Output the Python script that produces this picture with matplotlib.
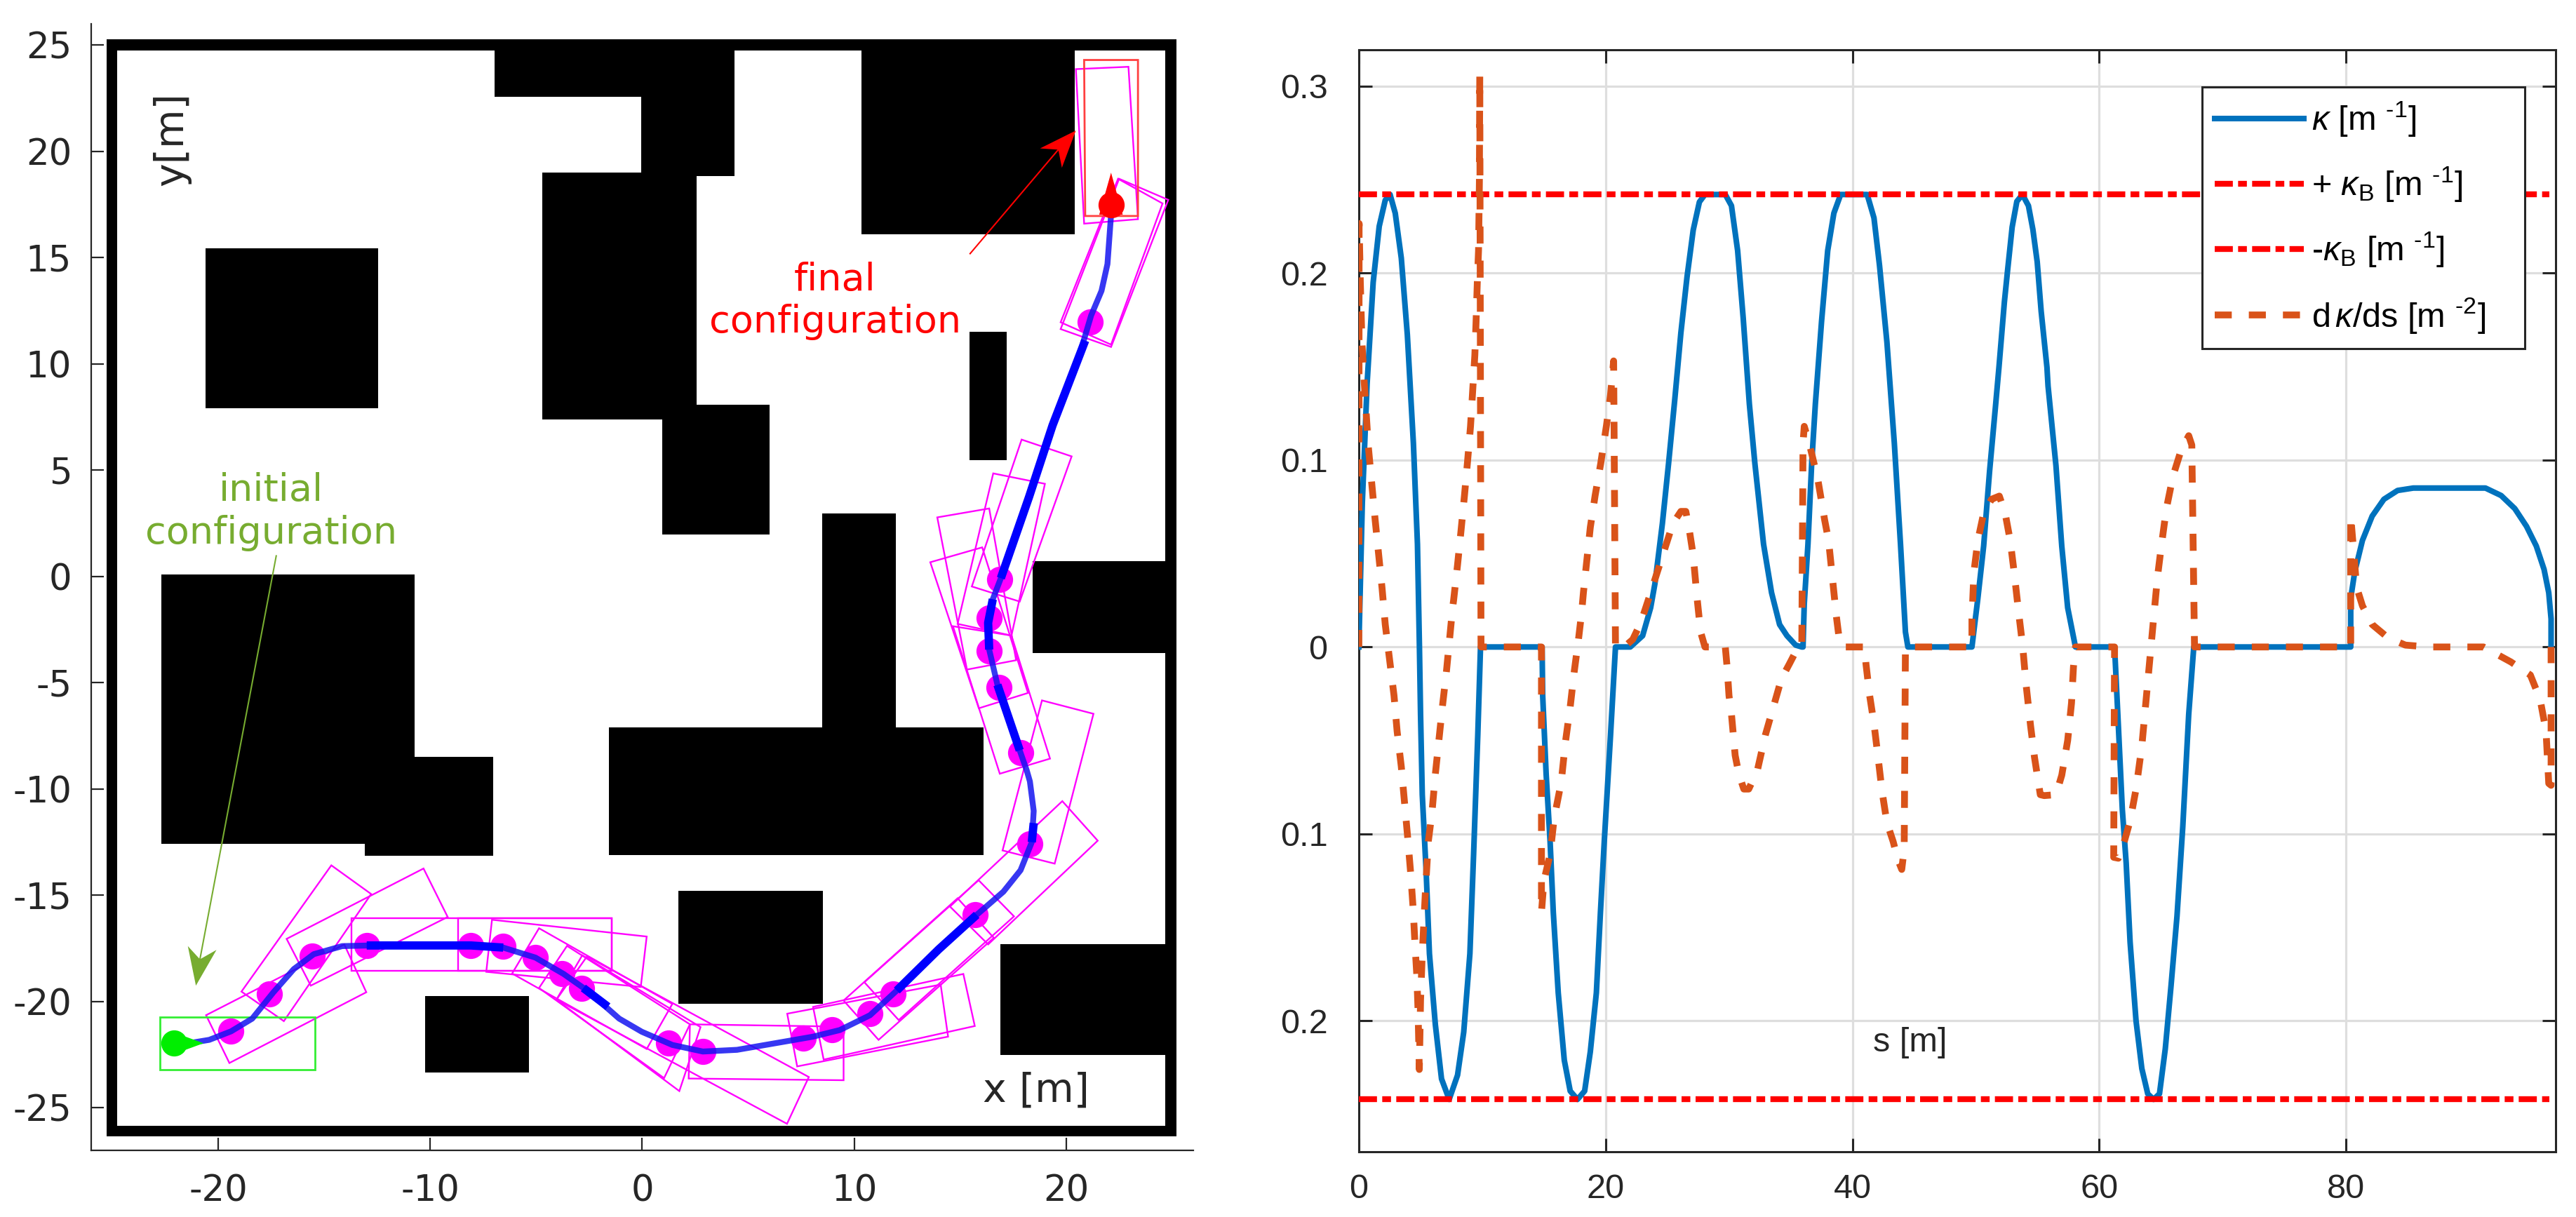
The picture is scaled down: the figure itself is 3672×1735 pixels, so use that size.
import matplotlib
matplotlib.use('Agg')
import matplotlib.pyplot as plt
from matplotlib.patches import Rectangle, Polygon

plt.rcParams['mathtext.fontset'] = 'custom'
plt.rcParams['mathtext.rm'] = 'Liberation Sans'
plt.rcParams['mathtext.it'] = 'Liberation Sans:italic'
plt.rcParams['mathtext.bf'] = 'Liberation Sans:bold'
plt.rcParams['axes.unicode_minus'] = False

# left panel: map
frame_outer = [-25.28, 25.2, -26.34, 25.28]
frame_inner = [-24.78, 24.68, -25.84, 24.75]

obs_x0 = [-6.96, -0.06, -4.71, 0.95, -20.6, 10.35, 15.44, 18.42, 8.48, -1.58, -22.7, -13.1, 1.71, -10.25, 16.9]
obs_x1 = [-0.06, 4.36, 2.58, 6.0, -12.47, 20.4, 17.2, 25.0, 11.96, 16.1, -10.74, -7.03, 8.51, -5.34, 25.0]
obs_y0 = [22.57, 18.85, 7.4, 1.97, 7.93, 16.1, 5.47, -3.6, -7.2, -13.1, -12.58, -13.14, -20.1, -23.35, -22.5]
obs_y1 = [25.0, 25.0, 19.0, 8.09, 15.45, 25.0, 11.5, 0.73, 2.98, -7.1, 0.11, -8.5, -14.8, -19.74, -17.3]

path_x = [-21.4, -20.43, -19.4, -18.4, -17.4, -16.44, -15.5, -14.16, -12.83, -8.08, -6.56, -5.04, -3.71, -2.57,
          -1.09, -0.02, 1.42, 2.86, 4.47, 6.27, 8.06, 9.32, 10.75, 12.01, 13.99, 15.78, 17.04, 17.85, 18.38, 18.47,
          18.29, 18.14, 17.81, 16.76, 16.37, 16.32, 16.54, 16.92, 18.25, 19.36, 20.46, 21.18, 21.67, 21.95, 22.12]
path_y = [-21.96, -21.8, -21.4, -20.8, -19.56, -18.47, -17.77, -17.39, -17.36, -17.36, -17.46, -17.93, -18.7, -19.5,
          -20.8, -21.42, -22.04, -22.35, -22.27, -21.96, -21.65, -21.34, -20.64, -19.48, -17.54, -15.92, -14.83, -13.82, -12.5, -11.03,
          -9.64, -9.12, -8.18, -5.1, -3.44, -2.18, -1.07, -0.08, 3.74, 7.11, 9.85, 12.28, 13.44, 14.7, 17.02]

# parts of the path drawn heavier
thick_x = [[-13.0, -8.08, -6.56], [-2.78, -1.62], [12.01, 13.99, 15.78], [18.38, 18.47], [16.54, 16.32, 16.37], [16.76, 17.81], [16.92, 18.25, 19.36, 20.9]]
thick_y = [[-17.36, -17.36, -17.46], [-19.36, -20.24], [-19.48, -17.54, -15.92], [-12.5, -11.6], [-1.07, -2.18, -3.44], [-5.1, -8.18], [-0.08, 3.74, 7.11, 11.1]]

blob_x = [-19.4, -17.58, -15.58, -13.0, -8.08, -6.56, -5.04, -3.8, -2.86, 1.24, 2.86, 7.61, 8.96, 10.75, 11.83, 15.69, 18.29, 17.86, 16.82, 16.37, 16.37, 16.87, 21.12]
blob_y = [-21.4, -19.63, -17.85, -17.36, -17.36, -17.39, -17.93, -18.7, -19.37, -21.96, -22.35, -21.73, -21.34, -20.56, -19.63, -15.92, -12.58, -8.29, -5.21, -3.5, -1.96, -0.14, 11.96]

veh_a = [(-14.67, -13.59), (-12.79, -14.94), (-16.91, -20.92), (-18.91, -19.53)]
veh_b = [(-16.78, -17.05), (-10.32, -13.74), (-9.18, -16.02), (-15.64, -19.25)]
veh_c = [(-20.58, -20.64), (-19.48, -22.89), (-13.02, -19.56), (-14.06, -17.31)]
veh_d1 = [(-13.72, -16.07), (-1.43, -16.07), (-1.43, -18.55), (-13.72, -18.55)]
veh_d2 = [(-8.7, -16.07), (-1.43, -16.07), (-1.43, -18.55), (-8.7, -18.55)]
veh_d3 = [(-7.09, -16.15), (0.21, -16.94), (-0.07, -19.31), (-7.36, -18.6)]
veh_v1 = [(-4.87, -16.55), (1.42, -20.11), (0.21, -22.23), (-6.14, -18.68)]
veh_v2 = [(-3.55, -17.38), (2.25, -21.07), (1.03, -23.6), (-4.87, -19.36)]
veh_v3 = [(-2.61, -17.88), (7.86, -23.55), (6.83, -25.75), (-4.05, -19.91)]
veh_v4 = [(-2.83, -17.82), (2.75, -21.2), (1.75, -24.21), (-4.05, -19.91)]
veh_e = [(2.25, -21.07), (9.5, -21.18), (9.5, -23.7), (2.19, -23.62)]
veh_h = [(6.84, -20.57), (14.08, -19.2), (14.43, -21.65), (7.31, -23.05)]
veh_i = [(8.06, -20.25), (15.15, -18.7), (15.69, -21.15), (8.56, -22.73)]
veh_j = [(10.48, -19.09), (15.87, -14.29), (17.54, -15.99), (12.1, -20.87)]
veh_k = [(9.5, -19.95), (14.88, -15.14), (16.59, -17.0), (11.15, -21.8)]
veh_l = [(14.52, -15.53), (19.82, -10.57), (21.49, -12.43), (16.32, -17.31)]
veh_m = [(17.0, -12.89), (19.46, -13.51), (21.29, -6.46), (18.86, -5.83)]
veh_u = [(14.66, -2.34), (17.42, -2.78), (19.24, -8.57), (16.87, -9.28)]
veh_t = [(13.59, 0.67), (16.04, 1.37), (18.2, -5.48), (15.88, -6.2)]
veh_s = [(13.92, 2.78), (16.37, 3.2), (17.64, -3.94), (15.32, -4.38)]
veh_r = [(16.56, 4.85), (19.0, 4.36), (17.42, -2.78), (14.88, -2.23)]
veh_q = [(17.9, 6.44), (20.26, 5.65), (17.81, -1.18), (15.55, -0.47)]
veh_p = [(22.5, 18.71), (24.82, 17.72), (22.12, 10.8), (19.74, 11.64)]
veh_p2 = [(22.45, 18.71), (24.55, 17.55), (22.12, 10.91), (19.74, 11.96)]
veh_o = [(20.46, 23.87), (22.94, 23.98), (23.39, 16.81), (20.85, 16.6)]
vehicles = [veh_a, veh_b, veh_c, veh_d1, veh_d2, veh_d3, veh_v1, veh_v2, veh_v3, veh_v4, veh_e, veh_h, veh_i,
            veh_j, veh_k, veh_l, veh_m, veh_u, veh_t, veh_s, veh_r, veh_q, veh_p, veh_p2, veh_o]

veh_start = [(-22.75, -20.72), (-15.43, -20.72), (-15.43, -23.2), (-22.75, -23.2)]
veh_final = [(20.85, 24.3), (23.39, 24.3), (23.39, 16.96), (20.9, 16.96)]
tri_start = [(-22.1, -21.45), (-20.7, -21.96), (-22.1, -22.47)]
tri_final = [(21.56, 17.02), (22.12, 19.0), (22.67, 17.02)]
start_pt = (-22.1, -21.96)
final_pt = (22.12, 17.5)

green_tail = (-17.27, 0.97)
green_notch = (-20.87, -18.01)
green_head = [(-21.06, -19.25), (-21.44, -17.39), (-20.87, -18.01), (-20.09, -17.57)]
red_tail = (15.47, 15.19)
red_notch = (19.63, 20.08)
red_head = [(20.46, 20.98), (18.77, 20.14), (19.63, 20.08), (19.8, 19.23)]

# right panel: curvature
s_k = [0, 0.28, 0.67, 1.16, 1.65, 2.14, 2.53, 2.95, 3.44, 3.93, 4.42, 4.75, 4.91, 5.0, 5.14, 5.46, 5.72, 6.2, 6.7, 7.32,
       8.0, 8.5, 9.0, 9.3, 9.64, 9.86, 14.85, 14.9, 15.18, 15.5, 15.76, 16.16, 16.65, 17.13, 17.72, 18.3, 18.76, 19.25,
       19.58, 19.9, 20.4, 20.8, 22.0, 23.0, 23.65, 24.0, 24.6, 25.1, 25.6, 26.1, 26.6, 27.1, 27.6, 28.05, 29.7, 30.2,
       30.7, 31.15, 31.65, 32.1, 32.8, 33.45, 34.1, 34.7, 35.4, 35.9, 36.0, 36.1, 36.4, 36.7, 37.0, 37.5, 38.0, 38.5,
       39.05, 41.2, 41.75, 42.2, 42.8, 43.4, 43.9, 44.3, 44.5, 49.69, 50.17, 50.64, 51.12, 51.59, 51.88, 52.32, 52.57,
       52.95, 53.33, 53.78, 54.27, 54.63, 54.98, 55.3, 55.77, 55.86, 56.5, 56.97, 57.45, 58.08, 61.25, 61.47, 61.88,
       62.19, 62.51, 62.99, 63.46, 63.94, 64.41, 64.89, 65.36, 65.83, 66.31, 66.78, 67.26, 67.67, 80.39, 80.39, 80.71,
       81.34, 82.13, 83.08, 84.19, 85.46, 91.31, 92.58, 93.69, 94.64, 95.43, 96.06, 96.44, 96.63, 96.63]
kappa = [0, 0.077, 0.141, 0.195, 0.225, 0.239, 0.242, 0.232, 0.208, 0.167, 0.109, 0.055, 0.0, -0.036, -0.079, -0.121, -0.164, -0.202, -0.231, -0.242,
         -0.229, -0.206, -0.164, -0.111, -0.047, 0, 0, -0.026, -0.068, -0.104, -0.142, -0.185, -0.221, -0.2375, -0.242, -0.2375, -0.2165, -0.185,
         -0.142, -0.103, -0.047, 0, 0, 0.006, 0.021, 0.034, 0.066, 0.098, 0.132, 0.168, 0.198, 0.223, 0.238, 0.242, 0.242, 0.236,
         0.212, 0.176, 0.13, 0.098, 0.055, 0.029, 0.012, 0.006, 0.001, 0, 0, 0.023, 0.055, 0.098, 0.13, 0.174, 0.212, 0.232,
         0.242, 0.242, 0.2295, 0.204, 0.163, 0.109, 0.055, 0.008, 0, 0, 0.026, 0.054, 0.094, 0.128, 0.1496, 0.1845, 0.2008,
         0.2246, 0.2383, 0.242, 0.236, 0.2233, 0.206, 0.1796, 0.1496, 0.1395, 0.097, 0.054, 0.021, 0, 0, -0.03, -0.087,
         -0.1155, -0.158, -0.2, -0.2255, -0.239, -0.242, -0.239, -0.215, -0.181, -0.144, -0.096, -0.036, 0, 0, 0.026, 0.04,
         0.057, 0.07, 0.079, 0.0837, 0.085, 0.085, 0.081, 0.074, 0.0645, 0.054, 0.0415, 0.029, 0.015, 0]

s_d = [0, 0.02, 0.12, 0.25, 0.44, 0.77, 1.32, 1.88, 2.14, 2.53, 2.85, 3.1, 3.44, 3.7, 3.96, 4.2, 4.4, 4.55, 4.7, 4.8, 4.9,
       5.0, 5.14, 5.4, 5.63, 5.92, 6.2, 6.47, 6.77, 7.1, 7.35, 7.6, 7.68, 8.0, 8.27, 8.56, 8.82, 9.05, 9.24, 9.4, 9.5, 9.6, 9.7, 9.77, 9.8, 9.9,
       14.8, 14.8, 15.0, 15.5, 15.83, 16.4, 16.74, 17.13, 17.46, 17.8, 18.05, 18.2, 18.44, 18.76, 19.15, 19.6, 20.07, 20.4, 20.65, 20.8,
       21.5, 22.2, 22.85, 23.65, 24.5, 25.45, 26.1, 26.5, 26.75, 27.1, 27.4, 27.7, 28.05, 29.7, 29.85, 30.0, 30.2, 30.5, 30.8, 31.2, 31.6, 32.3, 32.95, 33.6, 34.25, 34.9, 35.4, 35.9,
       36.0, 36.1, 36.5, 37.2, 37.75, 38.07, 38.4, 38.7, 38.9, 39.2, 41.0, 41.1, 41.4, 41.75, 42.1, 42.4, 42.8, 43.3, 43.7, 44.0, 44.2, 44.3,
       49.69, 49.69, 49.85, 50.17, 50.64, 51.28, 51.91, 52.38, 52.79, 53.11, 53.49, 53.81, 54.06, 54.44, 54.76, 55.23, 55.55, 56.5, 56.97, 57.45, 57.76, 57.92, 58.08,
       61.25, 61.18, 61.56, 62.04, 62.51, 62.99, 63.46, 63.78, 64.09, 64.41, 64.73, 65.04, 65.45, 65.99, 66.63, 67.26, 67.51, 67.73,
       80.39, 80.39, 80.87, 81.34, 82.13, 83.4, 84.82, 86.72, 91.15, 93.37, 94.95, 95.74, 96.22, 96.44, 96.63, 96.63]
dkappa = [0, 0.2265, 0.195, 0.163, 0.141, 0.107, 0.068, 0.0315, 0.012, -0.009, -0.026, -0.045, -0.064, -0.083, -0.102, -0.121, -0.14, -0.159, -0.176, -0.195, -0.226,
          -0.189, -0.164, -0.13, -0.104, -0.089, -0.068, -0.051, -0.032, -0.013, 0.004, 0.021, 0.025, 0.044, 0.0615, 0.081, 0.1, 0.118, 0.139, 0.156, 0.174, 0.195, 0.212, 0.249, 0.306, 0,
          0, -0.142, -0.125, -0.111, -0.0915, -0.0724, -0.051, -0.032, -0.013, 0.004, 0.018, 0.029, 0.044, 0.064, 0.081, 0.098, 0.1185, 0.135, 0.153, 0,
          0, 0.004, 0.013, 0.029, 0.0465, 0.066, 0.0725, 0.0725, 0.064, 0.049, 0.027, 0.008, 0, 0, -0.011, -0.026, -0.036, -0.058, -0.068, -0.076, -0.076, -0.066, -0.047, -0.032, -0.017, -0.009, -0.0026, 0,
          0.109, 0.118, 0.109, 0.0896, 0.068, 0.057, 0.0356, 0.0165, 0.006, 0, 0, -0.009, -0.026, -0.041, -0.06, -0.077, -0.094, -0.104, -0.114, -0.119, -0.108, 0,
          0, 0.015, 0.04, 0.057, 0.0716, 0.079, 0.0807, 0.0716, 0.057, 0.04, 0.0176, 0, -0.019, -0.042, -0.059, -0.079, -0.0795, -0.079, -0.0686, -0.05, -0.03, -0.0105, 0,
          0, -0.1125, -0.113, -0.104, -0.093, -0.076, -0.053, -0.03, -0.008, 0.015, 0.0375, 0.054, 0.074, 0.0915, 0.105, 0.113, 0.108, 0,
          0, 0.07, 0.032, 0.022, 0.012, 0.005, 0.001, 0, 0, -0.008, -0.015, -0.028, -0.045, -0.073, -0.074, 0]

bound_x = [0, 96.5]
bound = 0.242

map_xticks = [-20, -10, 0, 10, 20]
map_yticks = [-25, -20, -15, -10, -5, 0, 5, 10, 15, 20, 25]
k_xticks = [0, 20, 40, 60, 80]
k_yticks = [-0.2, -0.1, 0, 0.1, 0.2, 0.3]
k_ylabels = ['0.2', '0.1', '0', '0.1', '0.2', '0.3']
legend_labels = [r'$\kappa$ [m $^{\text{-1}}$]', r'+ $\kappa_{\text{B}}$ [m $^{\text{-1}}$]',
                 r'-$\kappa_{\text{B}}$ [m $^{\text{-1}}$]', r'd$\,\kappa$/ds [m $^{\text{-2}}$]']

W, H = 3673, 1735
fig = plt.figure(figsize=(W / 100, H / 100), dpi=100)
ink = '#262626'

# ---- left
ax = fig.add_axes([130 / W, 1 - 1640 / H, (1701 - 130) / W, (1640 - 34) / H])
ax.set_xlim(-26, 26)
ax.set_ylim(-27, 26)
ax.add_patch(Rectangle((frame_outer[0], frame_outer[2]), frame_outer[1] - frame_outer[0], frame_outer[3] - frame_outer[2], fc='k', ec='none'))
ax.add_patch(Rectangle((frame_inner[0], frame_inner[2]), frame_inner[1] - frame_inner[0], frame_inner[3] - frame_inner[2], fc='w', ec='none'))
for x0, x1, y0, y1 in zip(obs_x0, obs_x1, obs_y0, obs_y1):
    ax.add_patch(Rectangle((x0, y0), x1 - x0, y1 - y0, fc='k', ec='none'))

for q in vehicles:
    ax.add_patch(Polygon(q, closed=True, fill=False, ec='#FF00FF', lw=1.7, zorder=3))
ax.add_patch(Polygon(veh_start, closed=True, fill=False, ec='#33EE33', lw=2, zorder=3))
ax.add_patch(Polygon(veh_final, closed=True, fill=False, ec='#FF4040', lw=2, zorder=3))

ax.scatter(blob_x, blob_y, s=720, c='#FF00FF', linewidths=0, zorder=4)
ax.plot(path_x, path_y, color='#1414F0', lw=6, alpha=0.85, zorder=5)
for tx, ty in zip(thick_x, thick_y):
    ax.plot(tx, ty, color='#0000FF', lw=8.5, solid_capstyle='butt', zorder=5)

ax.scatter([start_pt[0]], [start_pt[1]], s=720, c='#00EE00', linewidths=0, zorder=6)
ax.add_patch(Polygon(tri_start, closed=True, fc='#00EE00', ec='none', zorder=6))
ax.scatter([final_pt[0]], [final_pt[1]], s=720, c='#FF0000', linewidths=0, zorder=6)
ax.add_patch(Polygon(tri_final, closed=True, fc='#FF0000', ec='none', zorder=6))

ax.plot([green_tail[0], green_notch[0]], [green_tail[1], green_notch[1]], color='#77AC30', lw=1.5, zorder=7)
ax.add_patch(Polygon(green_head, closed=True, fc='#77AC30', ec='none', zorder=7))
ax.plot([red_tail[0], red_notch[0]], [red_tail[1], red_notch[1]], color='#FF0000', lw=1.5, zorder=7)
ax.add_patch(Polygon(red_head, closed=True, fc='#FF0000', ec='none', zorder=7))

ax.text(9.09, 12.97, 'final\nconfiguration', color='#FF0000', fontsize=39, ha='center', va='center', linespacing=1.2, zorder=8)
ax.text(-17.52, 3.05, 'initial\nconfiguration', color='#77AC30', fontsize=39, ha='center', va='center', linespacing=1.2, zorder=8)
ax.text(-22.2, 20.6, 'y[m]', color=ink, fontsize=41, rotation=90, ha='center', va='center', zorder=8)
ax.text(18.6, -24.2, 'x [m]', color=ink, fontsize=41, ha='center', va='center', zorder=8)

ax.spines['top'].set_visible(False)
ax.spines['right'].set_visible(False)
for sp in ['left', 'bottom']:
    ax.spines[sp].set_color(ink)
    ax.spines[sp].set_linewidth(1.6)
ax.set_xticks(map_xticks)
ax.set_yticks(map_yticks)
ax.tick_params(axis='x', direction='in', length=13, width=1.6, color=ink, labelcolor=ink, labelsize=37, pad=24)
ax.tick_params(axis='y', direction='in', length=13, width=1.6, color=ink, labelcolor=ink, labelsize=37, pad=20)
ax.patch.set_alpha(0)

# ---- right
ax2 = fig.add_axes([1937 / W, 1 - 1642 / H, (3643 - 1937) / W, (1642 - 71) / H])
ax2.set_xlim(0, 97)
ax2.set_ylim(-0.27, 0.3194)
ax2.grid(True, color='#DEDEDE', lw=2.3)
ax2.set_axisbelow(True)
l1, = ax2.plot(s_k, kappa, color='#0072BD', lw=5.8, solid_joinstyle='round', zorder=3)
l2, = ax2.plot(bound_x, [bound, bound], color='#FF0000', lw=6, ls=(0, (3.1, 0.9, 1.5, 0.9)), zorder=4)
l3, = ax2.plot(bound_x, [-bound, -bound], color='#FF0000', lw=6, ls=(0, (3.1, 0.9, 1.5, 0.9)), zorder=4)
l4, = ax2.plot(s_d, dkappa, color='#D95319', lw=7, ls=(0, (2.5, 2.5)), zorder=5)

ax2.text(44.7, -0.2116, 's [m]', color=ink, fontsize=35, family='Liberation Sans', ha='center', va='center')

ax2.set_xticks(k_xticks)
ax2.set_yticks(k_yticks)
ax2.set_yticklabels(k_ylabels)
ax2.tick_params(axis='x', direction='in', length=14, width=2.2, color=ink, labelcolor=ink, labelsize=35, pad=22, top=True)
ax2.tick_params(axis='y', direction='in', length=14, width=2.2, color=ink, labelcolor=ink, labelsize=35, pad=32, right=True)
for t in ax2.get_xticklabels() + ax2.get_yticklabels():
    t.set_family('Liberation Sans')
for sp in ax2.spines.values():
    sp.set_color(ink)
    sp.set_linewidth(2.2)

leg = ax2.legend([l1, l2, l3, l4], legend_labels, loc='upper left',
                 bbox_to_anchor=((3139 - 1937) / (3643 - 1937), 1 - (124 - 71) / (1642 - 71), (3599 - 3139) / (3643 - 1937), 0),
                 mode='expand', borderaxespad=0, fancybox=False, framealpha=1, edgecolor=ink,
                 prop={'family': 'Liberation Sans', 'size': 35}, handlelength=2.6,
                 handletextpad=0.22, labelspacing=0.78, borderpad=0.38)
leg.get_frame().set_linewidth(2.2)
leg.set_zorder(10)

fig.savefig('out.png', dpi=100)
